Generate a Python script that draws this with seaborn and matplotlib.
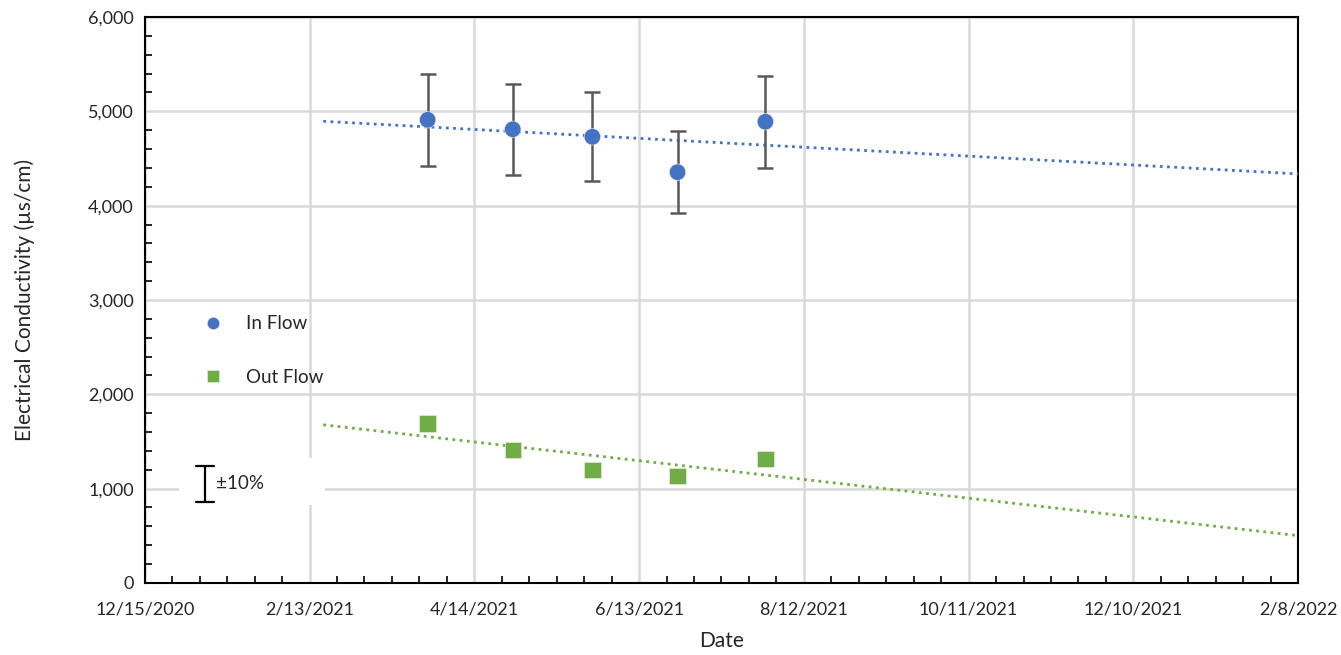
import matplotlib.pyplot as plt
import matplotlib.dates as mdates
from matplotlib.ticker import MultipleLocator, FuncFormatter
import seaborn as sns
import pandas as pd
import numpy as np

# sample dates and conductivity readings
dates = ['2021-03-28', '2021-04-28', '2021-05-27', '2021-06-27', '2021-07-29']
in_flow = [4910, 4810, 4730, 4355, 4890]
out_flow = [1690, 1410, 1195, 1135, 1315]
err_pct = 0.10

df = pd.DataFrame({'date': pd.to_datetime(dates * 2),
                   'ec': in_flow + out_flow,
                   'flow': ['In Flow'] * 5 + ['Out Flow'] * 5})

blue = '#4472C4'
green = '#70AD47'

sns.set_style('white')
plt.rcParams['font.family'] = ['Lato', 'DejaVu Sans']

fig, ax = plt.subplots(figsize=(13.41, 6.55), dpi=100)
fig.subplots_adjust(left=0.108, right=0.968, bottom=0.110, top=0.974)

# trend lines (linear fit, extended like Excel's forecast)
x_num = mdates.date2num(pd.to_datetime(dates))
t_start = mdates.date2num(pd.Timestamp('2021-02-18'))
t_end = mdates.date2num(pd.Timestamp('2022-02-08'))
t = np.array([t_start, t_end])
for vals, c in [(in_flow, blue), (out_flow, green)]:
    k, b = np.polyfit(x_num, vals, 1)
    ax.plot(mdates.num2date(t), k * t + b, linestyle=(0, (1, 1.6)), color=c, lw=2, zorder=3)

# error bars on in flow
ax.errorbar(pd.to_datetime(dates), in_flow, yerr=np.array(in_flow) * err_pct, fmt='none',
            ecolor='#595959', elinewidth=1.8, capsize=6, capthick=1.8, zorder=4)

sns.scatterplot(data=df, x='date', y='ec', hue='flow', style='flow',
                palette={'In Flow': blue, 'Out Flow': green},
                markers={'In Flow': 'o', 'Out Flow': 's'},
                s=140, linewidth=0.4, edgecolor='#eeeeee', ax=ax, zorder=5)

# legend
handles, labels = ax.get_legend_handles_labels()
ax.legend(handles, labels, loc='upper left', bbox_to_anchor=(0.028, 0.503), frameon=False,
          fontsize=13.5, labelspacing=1.95, handletextpad=0.8, markerscale=0.75)

# axes limits and ticks
ax.set_xlim(pd.Timestamp('2020-12-15'), pd.Timestamp('2022-02-08'))
ax.set_ylim(0, 6000)
major_dates = pd.date_range('2020-12-15', '2022-02-08', freq='60D')
ax.set_xticks(major_dates)
ax.set_xticks(pd.date_range('2020-12-15', '2022-02-08', freq='10D'), minor=True)
ax.xaxis.set_major_formatter(FuncFormatter(
    lambda v, p: f"{mdates.num2date(v).month}/{mdates.num2date(v).day}/{mdates.num2date(v).year}"))
ax.yaxis.set_major_locator(MultipleLocator(1000))
ax.yaxis.set_minor_locator(MultipleLocator(200))
ax.yaxis.set_major_formatter(FuncFormatter(lambda v, p: f"{int(v):,}"))

ax.tick_params(bottom=True, left=True, which='both')
ax.tick_params(axis='both', which='major', length=0, labelsize=13, colors='#262626', pad=8)
ax.tick_params(axis='both', which='minor', direction='in', length=5, width=1.2, color='black')
ax.tick_params(axis='x', which='major', pad=13)

ax.grid(True, which='major', color='#D9D9D9', lw=1.8)
ax.set_axisbelow(True)
for sp in ax.spines.values():
    sp.set_visible(True)
    sp.set_color('black')
    sp.set_linewidth(1.5)

ax.set_xlabel('Date', fontsize=15, color='#262626', labelpad=10)
ax.set_ylabel('Electrical Conductivity (µs/cm)', fontsize=15, color='#262626', labelpad=38)

# ±10% key box
ax.add_patch(plt.Rectangle((0.030, 0.138), 0.126, 0.083, transform=ax.transAxes,
                           facecolor='white', edgecolor='none', zorder=2))
ax.plot([0.052, 0.052], [0.143, 0.207], transform=ax.transAxes, color='black', lw=1.6, zorder=3)
for yy in (0.143, 0.207):
    ax.plot([0.044, 0.060], [yy, yy], transform=ax.transAxes, color='black', lw=1.6, zorder=3)
ax.text(0.062, 0.175, '±10%', transform=ax.transAxes, fontsize=13.5, va='center', ha='left',
        color='#262626', zorder=3)

fig.savefig('out.png', dpi=100)
